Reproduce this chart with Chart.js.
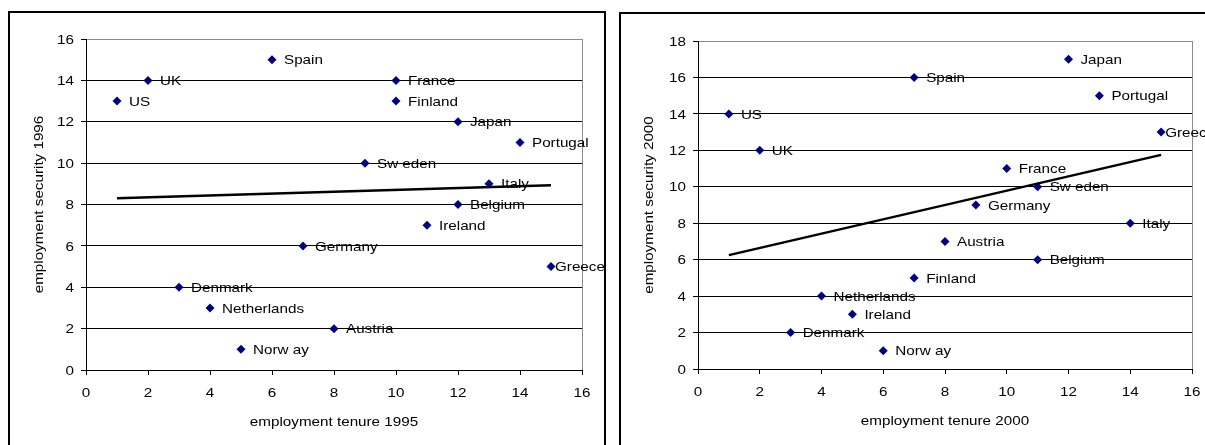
<!DOCTYPE html>
<html>
<head>
<meta charset="utf-8">
<script src="https://cdn.jsdelivr.net/npm/chart.js@4"></script>
<style>
  html, body { margin: 0; padding: 0; background: #fff; overflow: hidden; width: 1205px; height: 445px; }
  .box { position: absolute; border: 2px solid #000; box-sizing: border-box; background: #fff; }
  .box canvas { position: absolute; left: 0; top: 0; }
</style>
</head>
<body>
<div class="box" id="box1" style="left:8px; top:11px; width:598px; height:436px;"><canvas id="c1"></canvas></div>
<div class="box" id="box2" style="left:619px; top:12px; width:596px; height:435px;"><canvas id="c2"></canvas></div>
<script>
// ---------- data ----------
const countries = ['US','UK','Spain','France','Finland','Japan','Portugal','Sw eden','Italy','Belgium','Ireland','Germany','Greece','Denmark','Netherlands','Austria','Norw ay'];
const tenure1995   = [1, 2, 6, 10, 10, 12, 14, 9, 13, 12, 11, 7, 15, 3, 4, 8, 5];
const security1996 = [13, 14, 15, 14, 13, 12, 11, 10, 9, 8, 7, 6, 5, 4, 3, 2, 1];
const tenure2000   = [1, 2, 7, 10, 7, 12, 13, 11, 14, 11, 5, 9, 15, 3, 4, 8, 6];
const security2000 = [14, 12, 16, 11, 5, 17, 15, 10, 8, 6, 3, 9, 13, 2, 4, 7, 1];
const trendX = [1, 15];
const trend1996 = [8.3, 8.93];
const trend2000 = [6.25, 11.75];
const xTicks = [0, 2, 4, 6, 8, 10, 12, 14, 16];
const yTicks1 = [0, 2, 4, 6, 8, 10, 12, 14, 16];
const yTicks2 = [0, 2, 4, 6, 8, 10, 12, 14, 16, 18];
const xTitle1 = 'employment tenure 1995';
const yTitle1 = 'employment security 1996';
const xTitle2 = 'employment tenure 2000';
const yTitle2 = 'employment security 2000';

// ---------- drawing helpers ----------
const FONT = '13px "Liberation Sans", Arial, sans-serif';
const SX = 1.17;      // horizontal stretch of the original text rendering
const CAP = 4.65;     // half cap height at 13px

function sText(ctx, text, x, y, align, rotate) {
  ctx.save();
  ctx.translate(x, y);
  if (rotate) ctx.rotate(-Math.PI / 2);
  ctx.scale(SX, 1);
  ctx.font = FONT;
  ctx.fillStyle = '#000';
  ctx.textAlign = align;
  ctx.textBaseline = 'alphabetic';
  ctx.fillText(text, 0, 0);
  ctx.restore();
}
function sWidth(ctx, text) {
  ctx.save(); ctx.font = FONT; const w = ctx.measureText(text).width * SX; ctx.restore(); return w;
}

function makeChart(id, xs, ys, tx, ty, yTicks, yMax, pad, xTitle, yTitle, yTitleOff) {
  const canvas = document.getElementById(id);
  const box = canvas.parentElement;
  const W = box.clientWidth, H = box.clientHeight;
  canvas.width = W; canvas.height = H;
  canvas.style.width = W + 'px'; canvas.style.height = H + 'px';

  const points = xs.map((x, i) => ({ x: x, y: ys[i] }));
  const trend = tx.map((x, i) => ({ x: x, y: ty[i] }));

  const textPlugin = {
    id: 'texts',
    afterDraw(chart) {
      const ctx = chart.ctx;
      const xs_ = chart.scales.x, ys_ = chart.scales.y;
      const ca = chart.chartArea;
      // y tick labels
      ys_.ticks.forEach(t => {
        sText(ctx, String(t.value), ca.left - 12, ys_.getPixelForValue(t.value) + CAP, 'right');
      });
      // x tick labels
      xs_.ticks.forEach(t => {
        sText(ctx, String(t.value), xs_.getPixelForValue(t.value), ca.bottom + 26.5, 'center');
      });
      // axis titles
      sText(ctx, xTitle, (ca.left + ca.right) / 2, ca.bottom + 56, 'center');
      sText(ctx, yTitle, ca.left - yTitleOff, (ca.top + ca.bottom) / 2, 'center', true);
      // point labels
      const meta = chart.getDatasetMeta(1);
      meta.data.forEach((el, i) => {
        const name = countries[i];
        const w = sWidth(ctx, name);
        let sx = el.x + 12;
        if (sx + w > W - 3) sx = el.x + 4;
        sText(ctx, name, sx, el.y + CAP, 'left');
      });
    }
  };

  return new Chart(canvas, {
    type: 'scatter',
    data: {
      datasets: [
        { type: 'line', data: trend, borderColor: '#000', borderWidth: 2.5, pointRadius: 0, fill: false, tension: 0 },
        { data: points, pointStyle: 'rectRot', pointRadius: 4.5, pointHoverRadius: 4.5,
          backgroundColor: '#000080', borderColor: '#000080', borderWidth: 0 }
      ]
    },
    options: {
      responsive: false,
      animation: false,
      events: [],
      layout: { padding: { left: 0, top: pad.top, right: pad.right, bottom: 0 } },
      plugins: { legend: { display: false }, tooltip: { enabled: false }, title: { display: false } },
      scales: {
        x: {
          type: 'linear', min: 0, max: 16,
          afterBuildTicks: s => { s.ticks = xTicks.map(v => ({ value: v })); },
          afterFit: s => { s.height = pad.bottom; },
          ticks: { display: false },
          grid: {
            drawOnChartArea: true, drawTicks: true, tickLength: 5, tickColor: '#000',
            color: c => (c.tick && c.tick.value === 16) ? '#8c8c8c' : 'rgba(0,0,0,0)',
            lineWidth: 1
          },
          border: { display: true, color: '#000', width: 1 }
        },
        y: {
          type: 'linear', min: 0, max: yMax,
          afterBuildTicks: s => { s.ticks = yTicks.map(v => ({ value: v })); },
          afterFit: s => { s.width = pad.left; },
          ticks: { display: false },
          grid: {
            drawOnChartArea: true, drawTicks: true, tickLength: 5, tickColor: '#000',
            color: c => (c.tick && c.tick.value === yMax) ? '#8c8c8c' : '#000',
            lineWidth: 1
          },
          border: { display: true, color: '#000', width: 1 }
        }
      }
    },
    plugins: [textPlugin]
  });
}

// box1 content origin: (10,13); box2 content origin: (621,14)
makeChart('c1', tenure1995, security1996, trendX, trend1996, yTicks1, 16,
  { left: 76, top: 26, right: 594 - 572, bottom: 432 - 357 }, xTitle1, yTitle1, 43);
makeChart('c2', tenure2000, security2000, trendX, trend2000, yTicks2, 18,
  { left: 77, top: 27, right: 592 - 571, bottom: 431 - 355 }, xTitle2, yTitle2, 45);
</script>
</body>
</html>
